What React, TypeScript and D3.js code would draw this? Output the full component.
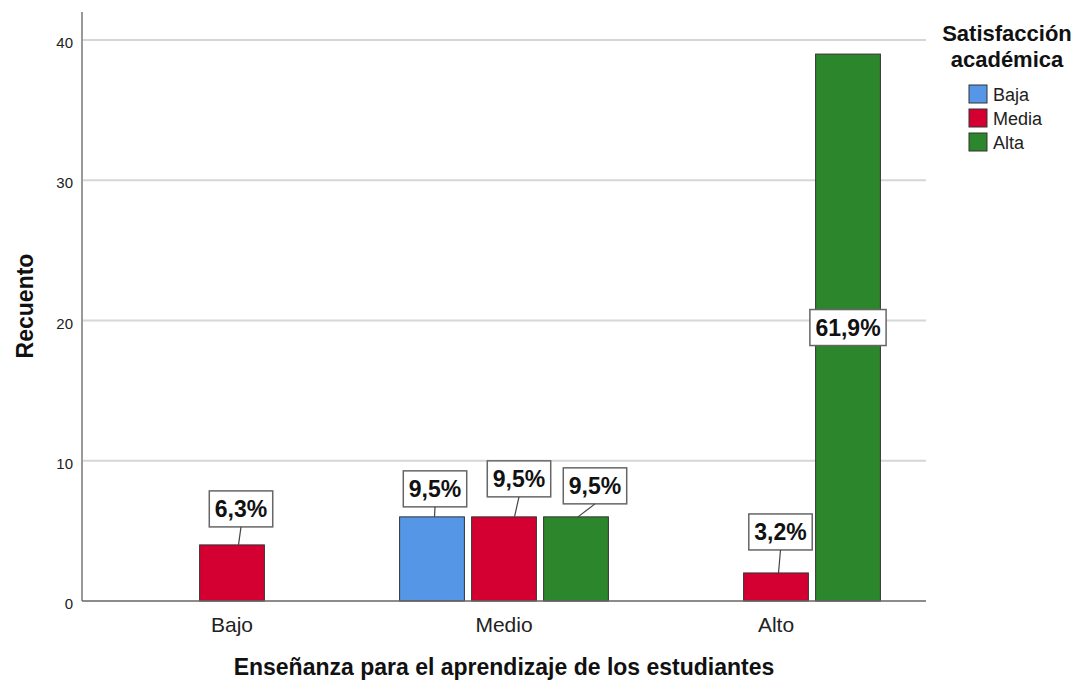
import React, { useRef, useEffect } from 'react';
import * as d3 from 'd3';

const categories = ['Bajo', 'Medio', 'Alto'];
const series = ['Baja', 'Media', 'Alta'];
const baja = [0, 6, 0];
const media = [4, 6, 2];
const alta = [0, 6, 39];
const yTicks = [0, 10, 20, 30, 40];
const colors = ['#5596E6', '#D50032', '#2C862B'];

// label box nudges: [box dx, gap above bar top, leader end dx]
const labelNudge: Record<string, number[]> = {
  'Bajo-Media': [9, 18, 6.5],
  'Medio-Baja': [3, 10, 2.5],
  'Medio-Media': [15, 20, 10.5],
  'Medio-Alta': [19, 13, 2],
  'Alto-Media': [4.5, 23, 2.5],
};

const FONT = '"Liberation Sans", Arial, sans-serif';

export default function App() {
  const svgRef = useRef<SVGSVGElement>(null);

  useEffect(() => {
    const svg = d3.select(svgRef.current);
    svg.selectAll('*').remove();

    const left = 82, right = 926, top = 12, bottom = 601;
    const values = [baja, media, alta];
    const total = d3.sum(values.flat());

    const x = d3.scaleBand().domain(categories).range([left, right]).paddingOuter(14 / 272);
    const xs = d3.scaleBand().domain(series).range([0, x.bandwidth()]).paddingInner(0.1).paddingOuter(0.439);
    const y = d3.scaleLinear().domain([0, 42]).range([bottom, top]);

    // gridlines
    svg.append('g')
      .selectAll('line')
      .data(yTicks.filter((t) => t > 0))
      .enter()
      .append('line')
      .attr('x1', left)
      .attr('x2', right)
      .attr('y1', (d) => y(d))
      .attr('y2', (d) => y(d))
      .attr('stroke', '#d6d6d6')
      .attr('stroke-width', 2);

    // tick labels
    svg.append('g')
      .selectAll('text')
      .data(yTicks)
      .enter()
      .append('text')
      .attr('x', 73)
      .attr('y', (d) => y(d) + 8)
      .attr('text-anchor', 'end')
      .attr('font-family', FONT)
      .attr('font-size', 15)
      .attr('fill', '#222')
      .text((d) => d);

    const bars: any[] = [];
    categories.forEach((c, ci) => {
      series.forEach((s, si) => {
        const v = values[si][ci];
        if (v > 0) bars.push({ c, s, si, v });
      });
    });

    svg.append('g')
      .selectAll('rect')
      .data(bars)
      .enter()
      .append('rect')
      .attr('x', (d) => x(d.c)! + xs(d.s)!)
      .attr('y', (d) => y(d.v))
      .attr('width', xs.bandwidth())
      .attr('height', (d) => y(0) - y(d.v))
      .attr('fill', (d) => colors[d.si])
      .attr('stroke', '#333')
      .attr('stroke-width', 1);

    // axes lines
    svg.append('line')
      .attr('x1', left).attr('x2', left)
      .attr('y1', top).attr('y2', bottom)
      .attr('stroke', '#999').attr('stroke-width', 2);
    svg.append('line')
      .attr('x1', left).attr('x2', right)
      .attr('y1', bottom).attr('y2', bottom)
      .attr('stroke', '#666').attr('stroke-width', 1.5);

    // category labels
    svg.append('g')
      .selectAll('text')
      .data(categories)
      .enter()
      .append('text')
      .attr('x', (d) => x(d)! + x.bandwidth() / 2)
      .attr('y', 632)
      .attr('text-anchor', 'middle')
      .attr('font-family', FONT)
      .attr('font-size', 21)
      .attr('fill', '#222')
      .text((d) => d);

    // value labels
    const fmt = (v: number) => d3.format('.1f')((v / total) * 100).replace('.', ',') + '%';
    bars.forEach((d) => {
      const bx = x(d.c)! + xs(d.s)! + xs.bandwidth() / 2;
      const barTop = y(d.v);
      const g = svg.append('g');
      const txt = g.append('text')
        .attr('text-anchor', 'middle')
        .attr('font-family', FONT)
        .attr('font-weight', 'bold')
        .attr('font-size', 23)
        .attr('fill', '#111')
        .text(fmt(d.v));
      const w = (txt.node() as SVGTextElement).getComputedTextLength() + 11;
      const h = 36;
      let cx: number, cy: number;
      const nudge = labelNudge[`${d.c}-${d.s}`];
      if (y(0) - barTop > 100 || !nudge) {
        cx = bx;
        cy = (barTop + y(0)) / 2;
      } else {
        cx = bx + nudge[0];
        cy = barTop - nudge[1] - h / 2;
        g.append('line')
          .attr('x1', cx).attr('y1', cy + h / 2)
          .attr('x2', bx + nudge[2]).attr('y2', barTop)
          .attr('stroke', '#444').attr('stroke-width', 1.2);
      }
      g.insert('rect', 'text')
        .attr('x', cx - w / 2)
        .attr('y', cy - h / 2)
        .attr('width', w)
        .attr('height', h)
        .attr('fill', '#fff')
        .attr('stroke', '#666')
        .attr('stroke-width', 1.5);
      txt.attr('x', cx).attr('y', cy + 8);
    });

    // axis titles
    svg.append('text')
      .attr('transform', 'translate(33,306) rotate(-90)')
      .attr('text-anchor', 'middle')
      .attr('font-family', FONT)
      .attr('font-weight', 'bold')
      .attr('font-size', 23)
      .attr('fill', '#111')
      .text('Recuento');
    svg.append('text')
      .attr('x', (left + right) / 2)
      .attr('y', 675)
      .attr('text-anchor', 'middle')
      .attr('font-family', FONT)
      .attr('font-weight', 'bold')
      .attr('font-size', 23)
      .attr('fill', '#111')
      .text('Enseñanza para el aprendizaje de los estudiantes');

    // legend
    const lg = svg.append('g');
    ['Satisfacción', 'académica'].forEach((t, i) => {
      lg.append('text')
        .attr('x', 1007)
        .attr('y', 41 + i * 26)
        .attr('text-anchor', 'middle')
        .attr('font-family', FONT)
        .attr('font-weight', 'bold')
        .attr('font-size', 22)
        .attr('fill', '#111')
        .text(t);
    });
    series.forEach((s, i) => {
      lg.append('rect')
        .attr('x', 969)
        .attr('y', 85 + i * 24)
        .attr('width', 18)
        .attr('height', 18)
        .attr('fill', colors[i])
        .attr('stroke', '#333')
        .attr('stroke-width', 1);
      lg.append('text')
        .attr('x', 993)
        .attr('y', 101 + i * 24)
        .attr('font-family', FONT)
        .attr('font-size', 18)
        .attr('fill', '#222')
        .text(s);
    });
  }, []);

  return (
    <svg
      ref={svgRef}
      width={1078}
      height={681}
      style={{ position: 'absolute', left: 0, top: 0, background: '#fff' }}
    />
  );
}
